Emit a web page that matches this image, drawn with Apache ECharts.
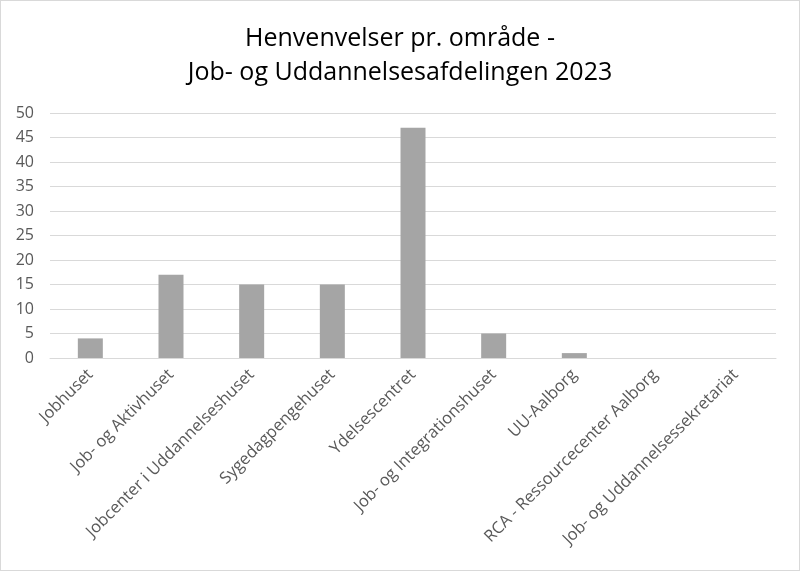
<!DOCTYPE html>
<html><head><meta charset="utf-8">
<script src="https://cdn.jsdelivr.net/npm/echarts@6/dist/echarts.min.js"></script>
<style>html,body{margin:0;padding:0;background:#fff}#c{width:800px;height:571px;box-sizing:border-box;border:1px solid #d9d9d9}</style>
</head><body><div id="c"></div>
<script>
const categories = ["Jobhuset","Job- og Aktivhuset","Jobcenter i Uddannelseshuset","Sygedagpengehuset","Ydelsescentret","Job- og Integrationshuset","UU-Aalborg","RCA - Ressourcecenter Aalborg","Job- og Uddannelsessekretariat"];
const values = [4,17,15,15,47,5,1,0,0];
const titleText = "Henvenvelser pr. område -\nJob- og Uddannelsesafdelingen 2023";
const chart = echarts.init(document.getElementById('c'));
chart.setOption({
  animation:false,
  title:{text:titleText,left:'center',top:16,textStyle:{fontFamily:'Open Sans',fontSize:25,fontWeight:'normal',color:'#000',lineHeight:34}},
  grid:{left:49,right:23,top:112,bottom:212,containLabel:false},
  xAxis:{type:'category',data:categories,axisTick:{show:false},axisLine:{lineStyle:{color:'#d9d9d9'}},
    axisLabel:{rotate:45,interval:0,fontFamily:'Open Sans',fontSize:16.5,color:'#595959',margin:14}},
  yAxis:{type:'value',min:0,max:50,interval:5,axisLine:{show:false},axisTick:{show:false},
    splitLine:{lineStyle:{color:'#d9d9d9'}},axisLabel:{fontFamily:'Open Sans',fontSize:16,color:'#595959',margin:16}},
  series:[{type:'bar',data:values,barWidth:25,itemStyle:{color:'#a5a5a5'}}]
});
</script></body></html>
